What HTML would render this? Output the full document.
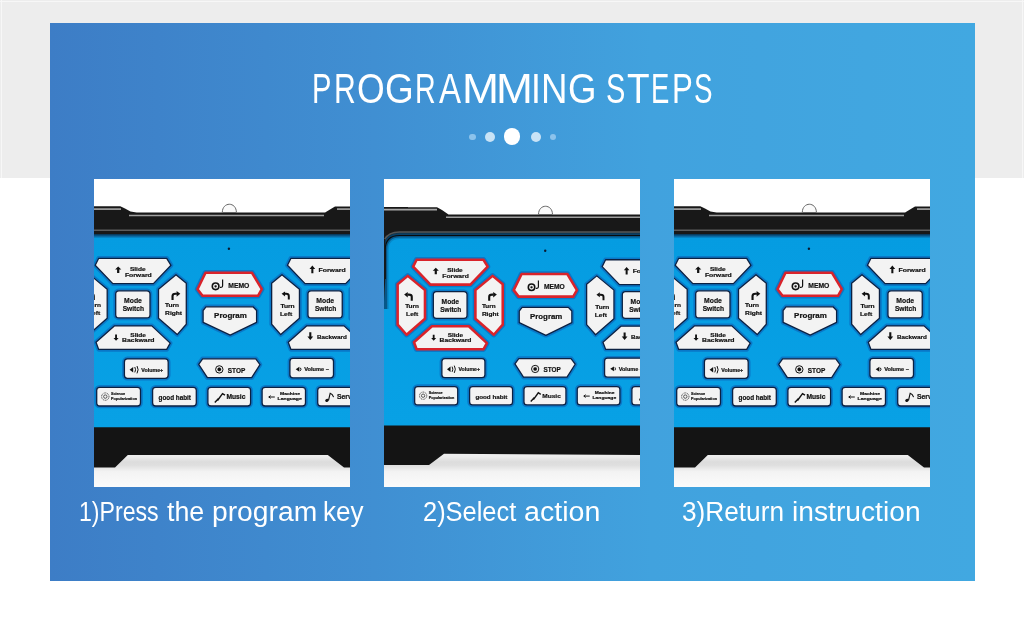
<!DOCTYPE html>
<html><head><meta charset="utf-8"><style>
*{margin:0;padding:0;box-sizing:border-box}
html,body{width:1024px;height:620px;overflow:hidden;background:#fff}
body{position:relative;font-family:"Liberation Sans",sans-serif}
#gray{position:absolute;left:0;top:0;width:1024px;height:178px;background:#ededed}
.gl{position:absolute;background:#f7f7f7}
#panel{position:absolute;left:50px;top:23px;width:925px;height:558px;background:linear-gradient(90deg,#3d7dc6 0%,#408fd2 35%,#41a2de 65%,#41a8e1 100%)}
#title{position:absolute;left:0;top:64.1px;width:1024px;height:48px;will-change:transform}
.tl{position:absolute;top:0;color:#fff;font-size:42.6px;line-height:48px;white-space:nowrap;transform-origin:0 0}
.dot{position:absolute;border-radius:50%}
.ph{position:absolute;top:179px;will-change:transform}
#caps{position:absolute;left:0;top:496.7px;width:1024px;height:30px;will-change:transform}
.cw{position:absolute;top:0;color:#fff;font-size:27px;line-height:30px;white-space:nowrap;transform-origin:0 0}
</style></head><body>
<div id="gray"></div><div class="gl" style="left:0;top:1px;width:1024px;height:1px"></div><div class="gl" style="left:1px;top:0;width:1px;height:178px"></div><div class="gl" style="left:1022px;top:0;width:1px;height:178px"></div>
<div id="panel"></div>
<div id="title"><span class="tl" style="left:311.81px;transform:scaleX(0.684)">P</span><span class="tl" style="left:333.73px;transform:scaleX(0.708)">R</span><span class="tl" style="left:356.51px;transform:scaleX(0.836)">O</span><span class="tl" style="left:385.44px;transform:scaleX(0.867)">G</span><span class="tl" style="left:415.05px;transform:scaleX(0.672)">R</span><span class="tl" style="left:438.84px;transform:scaleX(0.775)">A</span><span class="tl" style="left:461.56px;transform:scaleX(1.042)">M</span><span class="tl" style="left:495.77px;transform:scaleX(1.039)">M</span><span class="tl" style="left:531.33px;transform:scaleX(0.831)">I</span><span class="tl" style="left:540.89px;transform:scaleX(0.861)">N</span><span class="tl" style="left:568.46px;transform:scaleX(0.859)">G</span><span class="tl" style="left:606.08px;transform:scaleX(0.681)">S</span><span class="tl" style="left:626.67px;transform:scaleX(0.868)">T</span><span class="tl" style="left:651.04px;transform:scaleX(0.645)">E</span><span class="tl" style="left:672.14px;transform:scaleX(0.732)">P</span><span class="tl" style="left:693.94px;transform:scaleX(0.652)">S</span></div>
<div class="dot" style="left:469px;top:133.5px;width:6.5px;height:6.5px;background:#8cc3ec"></div>
<div class="dot" style="left:484.7px;top:131.6px;width:10px;height:10px;background:#c9e3f6"></div>
<div class="dot" style="left:503.8px;top:128.4px;width:16.4px;height:16.4px;background:#ffffff"></div>
<div class="dot" style="left:530.7px;top:131.6px;width:10px;height:10px;background:#c9e3f6"></div>
<div class="dot" style="left:549.7px;top:133.5px;width:6.5px;height:6.5px;background:#8cc3ec"></div>
<svg class="ph" style="left:94px" width="256" height="308" viewBox="0 0 256 308" font-family="Liberation Sans, sans-serif"><defs>
<linearGradient id="floor" x1="0" y1="0" x2="0" y2="1"><stop offset="0" stop-color="#f0f0f0"/><stop offset="0.12" stop-color="#ececec"/><stop offset="0.26" stop-color="#dcdcdc"/><stop offset="0.36" stop-color="#dfdfdf"/><stop offset="0.55" stop-color="#f3f3f3"/><stop offset="1" stop-color="#fbfbfb"/></linearGradient>
<linearGradient id="pblue" x1="0" y1="0" x2="0" y2="1"><stop offset="0" stop-color="#059ce1"/><stop offset="1" stop-color="#08a1e5"/></linearGradient>
<linearGradient id="pshade" x1="0" y1="0" x2="0" y2="1"><stop offset="0" stop-color="#08304f"/><stop offset="0.45" stop-color="#0a5f95"/><stop offset="1" stop-color="#0a5f95" stop-opacity="0"/></linearGradient>
</defs><rect x="0" y="0" width="256" height="308" fill="#ffffff"/><rect x="0" y="274" width="256" height="34" fill="url(#floor)"/><polygon points="0,27.3 26.3,27.3 31,29.5 36.5,32.6 42.6,33.5 231.1,33.5 236,30.5 241,27.6 256,27.6 256,56 0,56" fill="#181818"/><polyline points="0,30.1 27,30.1" fill="none" stroke="#a8a8a8" stroke-width="1.6"/><polyline points="35,36.4 230,36.4" fill="none" stroke="#a0a0a0" stroke-width="1.5"/><polyline points="243,30.1 256,30.1" fill="none" stroke="#a8a8a8" stroke-width="1.6"/><line x1="0" y1="51.2" x2="256" y2="51.2" stroke="#5c5c5c" stroke-width="1.6"/><path d="M128.3,33.5 C128.3,22.5 142.4,22.5 142.4,33.5 Z" fill="#fafafa" stroke="#666" stroke-width="1"/><rect x="0" y="55" width="256" height="194" fill="url(#pblue)"/><rect x="0" y="55" width="256" height="4.5" fill="url(#pshade)"/><polygon points="0,248.3 256,248.3 256,288.5 250,288.5 233.8,276 33.8,276 21,288.5 0,288.5" fill="#141414"/><circle cx="134.9" cy="69.7" r="1.2" fill="#0a1a30"/><g><polygon points="4.70,79.30 72.70,79.30 77.00,86.30 59.40,104.60 18.80,104.60 1.20,86.30" fill="none" stroke="#0a78c8" stroke-width="4.6" stroke-linejoin="round"/><polygon points="4.70,79.30 72.70,79.30 77.00,86.30 59.40,104.60 18.80,104.60 1.20,86.30" fill="#f3f3f3" stroke="#0c2142" stroke-width="1.3" stroke-linejoin="round"/><polygon points="20.30,146.90 57.80,146.90 76.20,164.10 72.70,170.40 4.70,170.40 2.00,163.30" fill="none" stroke="#0a78c8" stroke-width="4.6" stroke-linejoin="round"/><polygon points="20.30,146.90 57.80,146.90 76.20,164.10 72.70,170.40 4.70,170.40 2.00,163.30" fill="#f3f3f3" stroke="#0c2142" stroke-width="1.3" stroke-linejoin="round"/><polygon points="-4.30,95.70 -14.60,104.20 -14.60,145.30 -5.50,155.60 13.20,139.30 13.20,110.20" fill="none" stroke="#0a78c8" stroke-width="4.6" stroke-linejoin="round"/><polygon points="-4.30,95.70 -14.60,104.20 -14.60,145.30 -5.50,155.60 13.20,139.30 13.20,110.20" fill="#f3f3f3" stroke="#0c2142" stroke-width="1.3" stroke-linejoin="round"/><polygon points="82.00,95.70 92.30,104.20 92.30,145.30 83.20,155.60 64.50,139.30 64.50,110.20" fill="none" stroke="#0a78c8" stroke-width="4.6" stroke-linejoin="round"/><polygon points="82.00,95.70 92.30,104.20 92.30,145.30 83.20,155.60 64.50,139.30 64.50,110.20" fill="#f3f3f3" stroke="#0c2142" stroke-width="1.3" stroke-linejoin="round"/><rect x="21.70" y="111.80" width="34.30" height="27.10" rx="3.2" fill="none" stroke="#0a78c8" stroke-width="4.6"/><rect x="21.70" y="111.80" width="34.30" height="27.10" rx="3.2" fill="#f3f3f3" stroke="#0c2142" stroke-width="1.3"/><polygon points="196.95,79.30 264.95,79.30 269.25,86.30 251.65,104.60 211.05,104.60 193.45,86.30" fill="none" stroke="#0a78c8" stroke-width="4.6" stroke-linejoin="round"/><polygon points="196.95,79.30 264.95,79.30 269.25,86.30 251.65,104.60 211.05,104.60 193.45,86.30" fill="#f3f3f3" stroke="#0c2142" stroke-width="1.3" stroke-linejoin="round"/><polygon points="212.55,146.90 250.05,146.90 268.45,164.10 264.95,170.40 196.95,170.40 194.25,163.30" fill="none" stroke="#0a78c8" stroke-width="4.6" stroke-linejoin="round"/><polygon points="212.55,146.90 250.05,146.90 268.45,164.10 264.95,170.40 196.95,170.40 194.25,163.30" fill="#f3f3f3" stroke="#0c2142" stroke-width="1.3" stroke-linejoin="round"/><polygon points="187.95,95.70 177.65,104.20 177.65,145.30 186.75,155.60 205.45,139.30 205.45,110.20" fill="none" stroke="#0a78c8" stroke-width="4.6" stroke-linejoin="round"/><polygon points="187.95,95.70 177.65,104.20 177.65,145.30 186.75,155.60 205.45,139.30 205.45,110.20" fill="#f3f3f3" stroke="#0c2142" stroke-width="1.3" stroke-linejoin="round"/><polygon points="274.25,95.70 284.55,104.20 284.55,145.30 275.45,155.60 256.75,139.30 256.75,110.20" fill="none" stroke="#0a78c8" stroke-width="4.6" stroke-linejoin="round"/><polygon points="274.25,95.70 284.55,104.20 284.55,145.30 275.45,155.60 256.75,139.30 256.75,110.20" fill="#f3f3f3" stroke="#0c2142" stroke-width="1.3" stroke-linejoin="round"/><rect x="213.95" y="111.80" width="34.30" height="27.10" rx="3.2" fill="none" stroke="#0a78c8" stroke-width="4.6"/><rect x="213.95" y="111.80" width="34.30" height="27.10" rx="3.2" fill="#f3f3f3" stroke="#0c2142" stroke-width="1.3"/><polygon points="111.50,93.80 158.00,93.80 167.80,110.20 164.00,116.80 108.50,116.80 103.50,110.20" fill="none" stroke="#0a78c8" stroke-width="5.5" stroke-linejoin="round"/><polygon points="111.50,93.80 158.00,93.80 167.80,110.20 164.00,116.80 108.50,116.80 103.50,110.20" fill="#f3f3f3" stroke="#d9232b" stroke-width="2.6" stroke-linejoin="round"/><polygon points="112.00,127.80 159.00,127.80 162.60,131.50 162.60,143.30 136.20,156.20 109.10,143.30 109.10,131.50" fill="none" stroke="#0a78c8" stroke-width="4.6" stroke-linejoin="round"/><polygon points="112.00,127.80 159.00,127.80 162.60,131.50 162.60,143.30 136.20,156.20 109.10,143.30 109.10,131.50" fill="#f3f3f3" stroke="#0c2142" stroke-width="1.3" stroke-linejoin="round"/><polygon points="108.60,179.80 161.80,179.80 166.00,185.60 157.70,198.70 113.40,198.70 104.70,185.30" fill="none" stroke="#0a78c8" stroke-width="4.6" stroke-linejoin="round"/><polygon points="108.60,179.80 161.80,179.80 166.00,185.60 157.70,198.70 113.40,198.70 104.70,185.30" fill="#f3f3f3" stroke="#0c2142" stroke-width="1.3" stroke-linejoin="round"/><rect x="30.40" y="179.90" width="43.80" height="19.40" rx="3" fill="none" stroke="#0a78c8" stroke-width="4.6"/><rect x="30.40" y="179.90" width="43.80" height="19.40" rx="3" fill="#f3f3f3" stroke="#0c2142" stroke-width="1.3"/><rect x="195.90" y="179.40" width="43.60" height="19.40" rx="3" fill="none" stroke="#0a78c8" stroke-width="4.6"/><rect x="195.90" y="179.40" width="43.60" height="19.40" rx="3" fill="#f3f3f3" stroke="#0c2142" stroke-width="1.3"/><rect x="2.70" y="208.30" width="43.80" height="18.70" rx="3" fill="none" stroke="#0a78c8" stroke-width="4.6"/><rect x="2.70" y="208.30" width="43.80" height="18.70" rx="3" fill="#f3f3f3" stroke="#0c2142" stroke-width="1.3"/><rect x="58.60" y="208.30" width="43.70" height="18.70" rx="3" fill="none" stroke="#0a78c8" stroke-width="4.6"/><rect x="58.60" y="208.30" width="43.70" height="18.70" rx="3" fill="#f3f3f3" stroke="#0c2142" stroke-width="1.3"/><rect x="113.90" y="208.30" width="42.70" height="18.70" rx="3" fill="none" stroke="#0a78c8" stroke-width="4.6"/><rect x="113.90" y="208.30" width="42.70" height="18.70" rx="3" fill="#f3f3f3" stroke="#0c2142" stroke-width="1.3"/><rect x="168.10" y="208.30" width="43.40" height="18.70" rx="3" fill="none" stroke="#0a78c8" stroke-width="4.6"/><rect x="168.10" y="208.30" width="43.40" height="18.70" rx="3" fill="#f3f3f3" stroke="#0c2142" stroke-width="1.3"/><rect x="223.70" y="208.30" width="43.70" height="18.70" rx="3" fill="none" stroke="#0a78c8" stroke-width="4.6"/><rect x="223.70" y="208.30" width="43.70" height="18.70" rx="3" fill="#f3f3f3" stroke="#0c2142" stroke-width="1.3"/></g><g fill="#111" stroke="#111" stroke-width="0.2"><text x="30.1" y="123.9" font-size="7.2" font-weight="bold" textLength="17.80" lengthAdjust="spacingAndGlyphs">Mode</text><text x="28.7" y="132.2" font-size="7.2" font-weight="bold" textLength="21.40" lengthAdjust="spacingAndGlyphs">Switch</text><path d="M24.200000000000003,87.5 L27.3,90.47 H25.316000000000003 V94.1 H23.084000000000003 V90.47 H21.1 Z" fill="#111" stroke="none"/><text x="35.9" y="91.8" font-size="5.8" font-weight="bold" textLength="15.70" lengthAdjust="spacingAndGlyphs">Slide</text><text x="30.9" y="97.6" font-size="5.8" font-weight="bold" textLength="26.90" lengthAdjust="spacingAndGlyphs">Forward</text><path d="M22.05,161.8 L24.6,158.965 H22.968 V155.5 H21.132 V158.965 H19.5 Z" fill="#111" stroke="none"/><text x="36.3" y="157.5" font-size="5.8" font-weight="bold" textLength="15.70" lengthAdjust="spacingAndGlyphs">Slide</text><text x="28.1" y="163.3" font-size="5.8" font-weight="bold" textLength="32.40" lengthAdjust="spacingAndGlyphs">Backward</text><path d="M78.53999999999999,121.1 V117.005 Q78.53999999999999,114.73 81.44999999999999,114.73 H82.905" fill="none" stroke="#111" stroke-width="2.13"/><path d="M82.605,112 L86.3,114.73 L82.605,117.642 Z" fill="#111" stroke="none"/><text x="71.1" y="128.4" font-size="5.6" font-weight="bold" textLength="14.00" lengthAdjust="spacingAndGlyphs">Turn</text><text x="71.1" y="136.3" font-size="5.6" font-weight="bold" textLength="17.00" lengthAdjust="spacingAndGlyphs">Right</text><path d="M-0.24,121.1 V117.005 Q-0.24,114.73 -3.1499999999999995,114.73 H-4.605" fill="none" stroke="#111" stroke-width="2.13"/><path d="M-4.305000000000001,112 L-8,114.73 L-4.305000000000001,117.642 Z" fill="#111" stroke="none"/><text x="-7" y="128.4" font-size="5.6" font-weight="bold" textLength="14.00" lengthAdjust="spacingAndGlyphs">Turn</text><text x="-6" y="136.3" font-size="5.6" font-weight="bold" textLength="12.30" lengthAdjust="spacingAndGlyphs">Left</text><text x="222.35" y="123.9" font-size="7.2" font-weight="bold" textLength="17.80" lengthAdjust="spacingAndGlyphs">Mode</text><text x="220.95" y="132.2" font-size="7.2" font-weight="bold" textLength="21.40" lengthAdjust="spacingAndGlyphs">Switch</text><path d="M218.35,86.6 L221.2,90.02 H219.376 V94.2 H217.32399999999998 V90.02 H215.5 Z" fill="#111" stroke="none"/><text x="224.5" y="93.1" font-size="5.8" font-weight="bold" textLength="27.10" lengthAdjust="spacingAndGlyphs">Forward</text><path d="M216.3,161 L219.2,157.49 H217.344 V153.2 H215.25600000000003 V157.49 H213.4 Z" fill="#111" stroke="none"/><text x="222.9" y="160" font-size="5.8" font-weight="bold" textLength="29.90" lengthAdjust="spacingAndGlyphs">Backward</text><path d="M194.79999999999998,120.6 V116.91 Q194.79999999999998,114.86 192.1,114.86 H190.75" fill="none" stroke="#111" stroke-width="1.98"/><path d="M191.05,112.4 L187.6,114.86 L191.05,117.484 Z" fill="#111" stroke="none"/><text x="186.4" y="129.2" font-size="5.6" font-weight="bold" textLength="14.30" lengthAdjust="spacingAndGlyphs">Turn</text><text x="186" y="137.3" font-size="5.6" font-weight="bold" textLength="12.30" lengthAdjust="spacingAndGlyphs">Left</text><circle cx="121.6" cy="107.3" r="3.3" fill="none" stroke="#111" stroke-width="1.6"/><circle cx="121.6" cy="107.3" r="1.1" fill="#111"/><path d="M128.6,100.5 V106.5 Q128.6,108.8 126,108.4" fill="none" stroke="#111" stroke-width="1.2"/><text x="134.3" y="109" font-size="7" font-weight="bold" textLength="21.10" lengthAdjust="spacingAndGlyphs">MEMO</text><text x="120.1" y="139.1" font-size="7.4" font-weight="bold" textLength="32.80" lengthAdjust="spacingAndGlyphs">Program</text><circle cx="125.3" cy="190.4" r="3.7" fill="none" stroke="#111" stroke-width="1"/><circle cx="125.3" cy="190.4" r="1.8" fill="#111"/><text x="133.8" y="193.5" font-size="7.6" font-weight="bold" textLength="17.50" lengthAdjust="spacingAndGlyphs">STOP</text><path d="M35.6,190.7 L39.2,188 V193.4 Z" fill="#111" stroke="none"/><path d="M40.8,188 Q42.3,190.7 40.8,193.4 M43,187 Q45.2,190.7 43,194.4" fill="none" stroke="#111" stroke-width="1"/><text x="47.3" y="192.6" font-size="5.6" font-weight="bold" textLength="21.90" lengthAdjust="spacingAndGlyphs">Volume+</text><path d="M201.7,190.3 L205.4,187.8 V192.8 Z" fill="#111" stroke="none"/><path d="M206.4,188.8 Q207.6,190.3 206.4,191.8" fill="none" stroke="#111" stroke-width="1"/><text x="210.3" y="192.4" font-size="5.6" font-weight="bold" textLength="24.70" lengthAdjust="spacingAndGlyphs">Volume −</text><circle cx="11.3" cy="217.6" r="3.7" fill="none" stroke="#333" stroke-width="0.9" stroke-dasharray="1,0.7"/><circle cx="11.3" cy="217.6" r="1.7" fill="none" stroke="#333" stroke-width="0.8"/><text x="17" y="216.2" font-size="4" font-weight="bold" textLength="14.00" lengthAdjust="spacingAndGlyphs">Science</text><text x="17" y="221.4" font-size="4" font-weight="bold" textLength="26.00" lengthAdjust="spacingAndGlyphs">Popularization</text><text x="64.5" y="220.5" font-size="6.3" font-weight="bold" textLength="32.50" lengthAdjust="spacingAndGlyphs">good habit</text><path d="M120.8,223.5 L124.5,219.5 M123.5,221.5 L128.5,214.6 L131,216.2" fill="none" stroke="#111" stroke-width="1.4"/><text x="132.4" y="220.3" font-size="6.3" font-weight="bold" textLength="19.00" lengthAdjust="spacingAndGlyphs">Music</text><path d="M174.8,218 h6 M174.8,218 l1.8,-1.4 M174.8,218 l1.8,1.4" fill="none" stroke="#111" stroke-width="1"/><text x="186" y="215.8" font-size="4.4" font-weight="bold" textLength="20.00" lengthAdjust="spacingAndGlyphs">Machine</text><text x="183.6" y="221.2" font-size="4.4" font-weight="bold" textLength="24.20" lengthAdjust="spacingAndGlyphs">Language</text><ellipse cx="233" cy="221.3" rx="1.9" ry="1.5" transform="rotate(-25 233 221.3)" fill="#111" stroke="none"/><path d="M234.6,221 L236.2,214.2 Q238.6,215 239.6,218.2" fill="none" stroke="#111" stroke-width="1.1"/><text x="242.9" y="220.4" font-size="6.5" font-weight="bold" textLength="19.10" lengthAdjust="spacingAndGlyphs">Servo</text></g></svg>
<svg class="ph" style="left:384px" width="256" height="308" viewBox="0 0 256 308" font-family="Liberation Sans, sans-serif"><defs>
<linearGradient id="floor" x1="0" y1="0" x2="0" y2="1"><stop offset="0" stop-color="#f0f0f0"/><stop offset="0.12" stop-color="#ececec"/><stop offset="0.26" stop-color="#dcdcdc"/><stop offset="0.36" stop-color="#dfdfdf"/><stop offset="0.55" stop-color="#f3f3f3"/><stop offset="1" stop-color="#fbfbfb"/></linearGradient>
<linearGradient id="pblue" x1="0" y1="0" x2="0" y2="1"><stop offset="0" stop-color="#059ce1"/><stop offset="1" stop-color="#08a1e5"/></linearGradient>
<linearGradient id="pshade" x1="0" y1="0" x2="0" y2="1"><stop offset="0" stop-color="#08304f"/><stop offset="0.45" stop-color="#0a5f95"/><stop offset="1" stop-color="#0a5f95" stop-opacity="0"/></linearGradient>
</defs><rect x="0" y="0" width="256" height="308" fill="#ffffff"/><rect x="0" y="274" width="256" height="34" fill="url(#floor)"/><polygon points="0,28.2 53,28.2 58,31 64.5,35.5 256,35.5 256,60 0,60" fill="#181818"/><rect x="0" y="28" width="24" height="50" fill="#181818"/><polyline points="0,30.6 53,30.6" fill="none" stroke="#a8a8a8" stroke-width="1.6"/><polyline points="62,38.2 256,38.2" fill="none" stroke="#a0a0a0" stroke-width="1.5"/><path d="M154.5,35.5 C154.5,24.5 168.5,24.5 168.5,35.5 Z" fill="#fafafa" stroke="#666" stroke-width="1"/><path d="M0,247 L0,120 L1.2,100 L1.2,71 Q1.2,56.5 15.5,56.5 L256,56.5 L256,247 Z" fill="url(#pblue)"/><path d="M1.2,130 L1.2,71 Q1.2,56.5 15.5,56.5 L256,56.5" fill="none" stroke="#083a60" stroke-width="4" opacity="0.75"/><path d="M1.2,130 L1.2,71 Q1.2,56.5 15.5,56.5 L256,56.5" fill="none" stroke="#0a5f95" stroke-width="7" opacity="0.35"/><path d="M1.2,100 L1.2,71 Q1.2,56.5 15.5,56.5 L256,56.5" fill="none" stroke="#0a0a0a" stroke-width="1.2"/><path d="M-1.5,90 L-1.5,71 Q-1.5,53 15.5,53 L256,53" fill="none" stroke="#555" stroke-width="1.6"/><path d="M0,60 L1.3,60 L1.3,100 L0,122 Z" fill="#181818"/><polygon points="0,246.5 256,246.5 256,276 60,274.8 45,286 0,286" fill="#141414"/><circle cx="161.2" cy="71.8" r="1.2" fill="#0a1a30"/><g transform="translate(28,2.8) scale(0.983)"><g><polygon points="4.70,79.30 72.70,79.30 77.00,86.30 59.40,104.60 18.80,104.60 1.20,86.30" fill="none" stroke="#0a78c8" stroke-width="5.5" stroke-linejoin="round"/><polygon points="4.70,79.30 72.70,79.30 77.00,86.30 59.40,104.60 18.80,104.60 1.20,86.30" fill="#f3f3f3" stroke="#d9232b" stroke-width="2.6" stroke-linejoin="round"/><polygon points="20.30,146.90 57.80,146.90 76.20,164.10 72.70,170.40 4.70,170.40 2.00,163.30" fill="none" stroke="#0a78c8" stroke-width="5.5" stroke-linejoin="round"/><polygon points="20.30,146.90 57.80,146.90 76.20,164.10 72.70,170.40 4.70,170.40 2.00,163.30" fill="#f3f3f3" stroke="#d9232b" stroke-width="2.6" stroke-linejoin="round"/><polygon points="-4.30,95.70 -14.60,104.20 -14.60,145.30 -5.50,155.60 13.20,139.30 13.20,110.20" fill="none" stroke="#0a78c8" stroke-width="5.5" stroke-linejoin="round"/><polygon points="-4.30,95.70 -14.60,104.20 -14.60,145.30 -5.50,155.60 13.20,139.30 13.20,110.20" fill="#f3f3f3" stroke="#d9232b" stroke-width="2.6" stroke-linejoin="round"/><polygon points="82.00,95.70 92.30,104.20 92.30,145.30 83.20,155.60 64.50,139.30 64.50,110.20" fill="none" stroke="#0a78c8" stroke-width="5.5" stroke-linejoin="round"/><polygon points="82.00,95.70 92.30,104.20 92.30,145.30 83.20,155.60 64.50,139.30 64.50,110.20" fill="#f3f3f3" stroke="#d9232b" stroke-width="2.6" stroke-linejoin="round"/><rect x="21.70" y="111.80" width="34.30" height="27.10" rx="3.2" fill="none" stroke="#0a78c8" stroke-width="4.6"/><rect x="21.70" y="111.80" width="34.30" height="27.10" rx="3.2" fill="#f3f3f3" stroke="#0c2142" stroke-width="1.3"/><polygon points="196.95,79.30 264.95,79.30 269.25,86.30 251.65,104.60 211.05,104.60 193.45,86.30" fill="none" stroke="#0a78c8" stroke-width="4.6" stroke-linejoin="round"/><polygon points="196.95,79.30 264.95,79.30 269.25,86.30 251.65,104.60 211.05,104.60 193.45,86.30" fill="#f3f3f3" stroke="#0c2142" stroke-width="1.3" stroke-linejoin="round"/><polygon points="212.55,146.90 250.05,146.90 268.45,164.10 264.95,170.40 196.95,170.40 194.25,163.30" fill="none" stroke="#0a78c8" stroke-width="4.6" stroke-linejoin="round"/><polygon points="212.55,146.90 250.05,146.90 268.45,164.10 264.95,170.40 196.95,170.40 194.25,163.30" fill="#f3f3f3" stroke="#0c2142" stroke-width="1.3" stroke-linejoin="round"/><polygon points="187.95,95.70 177.65,104.20 177.65,145.30 186.75,155.60 205.45,139.30 205.45,110.20" fill="none" stroke="#0a78c8" stroke-width="4.6" stroke-linejoin="round"/><polygon points="187.95,95.70 177.65,104.20 177.65,145.30 186.75,155.60 205.45,139.30 205.45,110.20" fill="#f3f3f3" stroke="#0c2142" stroke-width="1.3" stroke-linejoin="round"/><polygon points="274.25,95.70 284.55,104.20 284.55,145.30 275.45,155.60 256.75,139.30 256.75,110.20" fill="none" stroke="#0a78c8" stroke-width="4.6" stroke-linejoin="round"/><polygon points="274.25,95.70 284.55,104.20 284.55,145.30 275.45,155.60 256.75,139.30 256.75,110.20" fill="#f3f3f3" stroke="#0c2142" stroke-width="1.3" stroke-linejoin="round"/><rect x="213.95" y="111.80" width="34.30" height="27.10" rx="3.2" fill="none" stroke="#0a78c8" stroke-width="4.6"/><rect x="213.95" y="111.80" width="34.30" height="27.10" rx="3.2" fill="#f3f3f3" stroke="#0c2142" stroke-width="1.3"/><polygon points="111.50,93.80 158.00,93.80 167.80,110.20 164.00,116.80 108.50,116.80 103.50,110.20" fill="none" stroke="#0a78c8" stroke-width="5.5" stroke-linejoin="round"/><polygon points="111.50,93.80 158.00,93.80 167.80,110.20 164.00,116.80 108.50,116.80 103.50,110.20" fill="#f3f3f3" stroke="#d9232b" stroke-width="2.6" stroke-linejoin="round"/><polygon points="112.00,127.80 159.00,127.80 162.60,131.50 162.60,143.30 136.20,156.20 109.10,143.30 109.10,131.50" fill="none" stroke="#0a78c8" stroke-width="4.6" stroke-linejoin="round"/><polygon points="112.00,127.80 159.00,127.80 162.60,131.50 162.60,143.30 136.20,156.20 109.10,143.30 109.10,131.50" fill="#f3f3f3" stroke="#0c2142" stroke-width="1.3" stroke-linejoin="round"/><polygon points="108.60,179.80 161.80,179.80 166.00,185.60 157.70,198.70 113.40,198.70 104.70,185.30" fill="none" stroke="#0a78c8" stroke-width="4.6" stroke-linejoin="round"/><polygon points="108.60,179.80 161.80,179.80 166.00,185.60 157.70,198.70 113.40,198.70 104.70,185.30" fill="#f3f3f3" stroke="#0c2142" stroke-width="1.3" stroke-linejoin="round"/><rect x="30.40" y="179.90" width="43.80" height="19.40" rx="3" fill="none" stroke="#0a78c8" stroke-width="4.6"/><rect x="30.40" y="179.90" width="43.80" height="19.40" rx="3" fill="#f3f3f3" stroke="#0c2142" stroke-width="1.3"/><rect x="195.90" y="179.40" width="43.60" height="19.40" rx="3" fill="none" stroke="#0a78c8" stroke-width="4.6"/><rect x="195.90" y="179.40" width="43.60" height="19.40" rx="3" fill="#f3f3f3" stroke="#0c2142" stroke-width="1.3"/><rect x="2.70" y="208.30" width="43.80" height="18.70" rx="3" fill="none" stroke="#0a78c8" stroke-width="4.6"/><rect x="2.70" y="208.30" width="43.80" height="18.70" rx="3" fill="#f3f3f3" stroke="#0c2142" stroke-width="1.3"/><rect x="58.60" y="208.30" width="43.70" height="18.70" rx="3" fill="none" stroke="#0a78c8" stroke-width="4.6"/><rect x="58.60" y="208.30" width="43.70" height="18.70" rx="3" fill="#f3f3f3" stroke="#0c2142" stroke-width="1.3"/><rect x="113.90" y="208.30" width="42.70" height="18.70" rx="3" fill="none" stroke="#0a78c8" stroke-width="4.6"/><rect x="113.90" y="208.30" width="42.70" height="18.70" rx="3" fill="#f3f3f3" stroke="#0c2142" stroke-width="1.3"/><rect x="168.10" y="208.30" width="43.40" height="18.70" rx="3" fill="none" stroke="#0a78c8" stroke-width="4.6"/><rect x="168.10" y="208.30" width="43.40" height="18.70" rx="3" fill="#f3f3f3" stroke="#0c2142" stroke-width="1.3"/><rect x="223.70" y="208.30" width="43.70" height="18.70" rx="3" fill="none" stroke="#0a78c8" stroke-width="4.6"/><rect x="223.70" y="208.30" width="43.70" height="18.70" rx="3" fill="#f3f3f3" stroke="#0c2142" stroke-width="1.3"/></g><g fill="#111" stroke="#111" stroke-width="0.2"><text x="30.1" y="123.9" font-size="7.2" font-weight="bold" textLength="17.80" lengthAdjust="spacingAndGlyphs">Mode</text><text x="28.7" y="132.2" font-size="7.2" font-weight="bold" textLength="21.40" lengthAdjust="spacingAndGlyphs">Switch</text><path d="M24.200000000000003,87.5 L27.3,90.47 H25.316000000000003 V94.1 H23.084000000000003 V90.47 H21.1 Z" fill="#111" stroke="none"/><text x="35.9" y="91.8" font-size="5.8" font-weight="bold" textLength="15.70" lengthAdjust="spacingAndGlyphs">Slide</text><text x="30.9" y="97.6" font-size="5.8" font-weight="bold" textLength="26.90" lengthAdjust="spacingAndGlyphs">Forward</text><path d="M22.05,161.8 L24.6,158.965 H22.968 V155.5 H21.132 V158.965 H19.5 Z" fill="#111" stroke="none"/><text x="36.3" y="157.5" font-size="5.8" font-weight="bold" textLength="15.70" lengthAdjust="spacingAndGlyphs">Slide</text><text x="28.1" y="163.3" font-size="5.8" font-weight="bold" textLength="32.40" lengthAdjust="spacingAndGlyphs">Backward</text><path d="M78.53999999999999,121.1 V117.005 Q78.53999999999999,114.73 81.44999999999999,114.73 H82.905" fill="none" stroke="#111" stroke-width="2.13"/><path d="M82.605,112 L86.3,114.73 L82.605,117.642 Z" fill="#111" stroke="none"/><text x="71.1" y="128.4" font-size="5.6" font-weight="bold" textLength="14.00" lengthAdjust="spacingAndGlyphs">Turn</text><text x="71.1" y="136.3" font-size="5.6" font-weight="bold" textLength="17.00" lengthAdjust="spacingAndGlyphs">Right</text><path d="M-0.24,121.1 V117.005 Q-0.24,114.73 -3.1499999999999995,114.73 H-4.605" fill="none" stroke="#111" stroke-width="2.13"/><path d="M-4.305000000000001,112 L-8,114.73 L-4.305000000000001,117.642 Z" fill="#111" stroke="none"/><text x="-7" y="128.4" font-size="5.6" font-weight="bold" textLength="14.00" lengthAdjust="spacingAndGlyphs">Turn</text><text x="-6" y="136.3" font-size="5.6" font-weight="bold" textLength="12.30" lengthAdjust="spacingAndGlyphs">Left</text><text x="222.35" y="123.9" font-size="7.2" font-weight="bold" textLength="17.80" lengthAdjust="spacingAndGlyphs">Mode</text><text x="220.95" y="132.2" font-size="7.2" font-weight="bold" textLength="21.40" lengthAdjust="spacingAndGlyphs">Switch</text><path d="M218.35,86.6 L221.2,90.02 H219.376 V94.2 H217.32399999999998 V90.02 H215.5 Z" fill="#111" stroke="none"/><text x="224.5" y="93.1" font-size="5.8" font-weight="bold" textLength="27.10" lengthAdjust="spacingAndGlyphs">Forward</text><path d="M216.3,161 L219.2,157.49 H217.344 V153.2 H215.25600000000003 V157.49 H213.4 Z" fill="#111" stroke="none"/><text x="222.9" y="160" font-size="5.8" font-weight="bold" textLength="29.90" lengthAdjust="spacingAndGlyphs">Backward</text><path d="M194.79999999999998,120.6 V116.91 Q194.79999999999998,114.86 192.1,114.86 H190.75" fill="none" stroke="#111" stroke-width="1.98"/><path d="M191.05,112.4 L187.6,114.86 L191.05,117.484 Z" fill="#111" stroke="none"/><text x="186.4" y="129.2" font-size="5.6" font-weight="bold" textLength="14.30" lengthAdjust="spacingAndGlyphs">Turn</text><text x="186" y="137.3" font-size="5.6" font-weight="bold" textLength="12.30" lengthAdjust="spacingAndGlyphs">Left</text><circle cx="121.6" cy="107.3" r="3.3" fill="none" stroke="#111" stroke-width="1.6"/><circle cx="121.6" cy="107.3" r="1.1" fill="#111"/><path d="M128.6,100.5 V106.5 Q128.6,108.8 126,108.4" fill="none" stroke="#111" stroke-width="1.2"/><text x="134.3" y="109" font-size="7" font-weight="bold" textLength="21.10" lengthAdjust="spacingAndGlyphs">MEMO</text><text x="120.1" y="139.1" font-size="7.4" font-weight="bold" textLength="32.80" lengthAdjust="spacingAndGlyphs">Program</text><circle cx="125.3" cy="190.4" r="3.7" fill="none" stroke="#111" stroke-width="1"/><circle cx="125.3" cy="190.4" r="1.8" fill="#111"/><text x="133.8" y="193.5" font-size="7.6" font-weight="bold" textLength="17.50" lengthAdjust="spacingAndGlyphs">STOP</text><path d="M35.6,190.7 L39.2,188 V193.4 Z" fill="#111" stroke="none"/><path d="M40.8,188 Q42.3,190.7 40.8,193.4 M43,187 Q45.2,190.7 43,194.4" fill="none" stroke="#111" stroke-width="1"/><text x="47.3" y="192.6" font-size="5.6" font-weight="bold" textLength="21.90" lengthAdjust="spacingAndGlyphs">Volume+</text><path d="M201.7,190.3 L205.4,187.8 V192.8 Z" fill="#111" stroke="none"/><path d="M206.4,188.8 Q207.6,190.3 206.4,191.8" fill="none" stroke="#111" stroke-width="1"/><text x="210.3" y="192.4" font-size="5.6" font-weight="bold" textLength="24.70" lengthAdjust="spacingAndGlyphs">Volume −</text><circle cx="11.3" cy="217.6" r="3.7" fill="none" stroke="#333" stroke-width="0.9" stroke-dasharray="1,0.7"/><circle cx="11.3" cy="217.6" r="1.7" fill="none" stroke="#333" stroke-width="0.8"/><text x="17" y="216.2" font-size="4" font-weight="bold" textLength="14.00" lengthAdjust="spacingAndGlyphs">Science</text><text x="17" y="221.4" font-size="4" font-weight="bold" textLength="26.00" lengthAdjust="spacingAndGlyphs">Popularization</text><text x="64.5" y="220.5" font-size="6.3" font-weight="bold" textLength="32.50" lengthAdjust="spacingAndGlyphs">good habit</text><path d="M120.8,223.5 L124.5,219.5 M123.5,221.5 L128.5,214.6 L131,216.2" fill="none" stroke="#111" stroke-width="1.4"/><text x="132.4" y="220.3" font-size="6.3" font-weight="bold" textLength="19.00" lengthAdjust="spacingAndGlyphs">Music</text><path d="M174.8,218 h6 M174.8,218 l1.8,-1.4 M174.8,218 l1.8,1.4" fill="none" stroke="#111" stroke-width="1"/><text x="186" y="215.8" font-size="4.4" font-weight="bold" textLength="20.00" lengthAdjust="spacingAndGlyphs">Machine</text><text x="183.6" y="221.2" font-size="4.4" font-weight="bold" textLength="24.20" lengthAdjust="spacingAndGlyphs">Language</text><ellipse cx="233" cy="221.3" rx="1.9" ry="1.5" transform="rotate(-25 233 221.3)" fill="#111" stroke="none"/><path d="M234.6,221 L236.2,214.2 Q238.6,215 239.6,218.2" fill="none" stroke="#111" stroke-width="1.1"/><text x="242.9" y="220.4" font-size="6.5" font-weight="bold" textLength="19.10" lengthAdjust="spacingAndGlyphs">Servo</text></g></g></svg>
<svg class="ph" style="left:674px" width="256" height="308" viewBox="0 0 256 308" font-family="Liberation Sans, sans-serif"><defs>
<linearGradient id="floor" x1="0" y1="0" x2="0" y2="1"><stop offset="0" stop-color="#f0f0f0"/><stop offset="0.12" stop-color="#ececec"/><stop offset="0.26" stop-color="#dcdcdc"/><stop offset="0.36" stop-color="#dfdfdf"/><stop offset="0.55" stop-color="#f3f3f3"/><stop offset="1" stop-color="#fbfbfb"/></linearGradient>
<linearGradient id="pblue" x1="0" y1="0" x2="0" y2="1"><stop offset="0" stop-color="#059ce1"/><stop offset="1" stop-color="#08a1e5"/></linearGradient>
<linearGradient id="pshade" x1="0" y1="0" x2="0" y2="1"><stop offset="0" stop-color="#08304f"/><stop offset="0.45" stop-color="#0a5f95"/><stop offset="1" stop-color="#0a5f95" stop-opacity="0"/></linearGradient>
</defs><rect x="0" y="0" width="256" height="308" fill="#ffffff"/><rect x="0" y="274" width="256" height="34" fill="url(#floor)"/><polygon points="0,27.3 26.3,27.3 31,29.5 36.5,32.6 42.6,33.5 231.1,33.5 236,30.5 241,27.6 256,27.6 256,56 0,56" fill="#181818"/><polyline points="0,30.1 27,30.1" fill="none" stroke="#a8a8a8" stroke-width="1.6"/><polyline points="35,36.4 230,36.4" fill="none" stroke="#a0a0a0" stroke-width="1.5"/><polyline points="243,30.1 256,30.1" fill="none" stroke="#a8a8a8" stroke-width="1.6"/><line x1="0" y1="51.2" x2="256" y2="51.2" stroke="#5c5c5c" stroke-width="1.6"/><path d="M128.3,33.5 C128.3,22.5 142.4,22.5 142.4,33.5 Z" fill="#fafafa" stroke="#666" stroke-width="1"/><rect x="0" y="55" width="256" height="194" fill="url(#pblue)"/><rect x="0" y="55" width="256" height="4.5" fill="url(#pshade)"/><polygon points="0,248.3 256,248.3 256,288.5 250,288.5 233.8,276 33.8,276 21,288.5 0,288.5" fill="#141414"/><circle cx="134.9" cy="69.7" r="1.2" fill="#0a1a30"/><g><polygon points="4.70,79.30 72.70,79.30 77.00,86.30 59.40,104.60 18.80,104.60 1.20,86.30" fill="none" stroke="#0a78c8" stroke-width="4.6" stroke-linejoin="round"/><polygon points="4.70,79.30 72.70,79.30 77.00,86.30 59.40,104.60 18.80,104.60 1.20,86.30" fill="#f3f3f3" stroke="#0c2142" stroke-width="1.3" stroke-linejoin="round"/><polygon points="20.30,146.90 57.80,146.90 76.20,164.10 72.70,170.40 4.70,170.40 2.00,163.30" fill="none" stroke="#0a78c8" stroke-width="4.6" stroke-linejoin="round"/><polygon points="20.30,146.90 57.80,146.90 76.20,164.10 72.70,170.40 4.70,170.40 2.00,163.30" fill="#f3f3f3" stroke="#0c2142" stroke-width="1.3" stroke-linejoin="round"/><polygon points="-4.30,95.70 -14.60,104.20 -14.60,145.30 -5.50,155.60 13.20,139.30 13.20,110.20" fill="none" stroke="#0a78c8" stroke-width="4.6" stroke-linejoin="round"/><polygon points="-4.30,95.70 -14.60,104.20 -14.60,145.30 -5.50,155.60 13.20,139.30 13.20,110.20" fill="#f3f3f3" stroke="#0c2142" stroke-width="1.3" stroke-linejoin="round"/><polygon points="82.00,95.70 92.30,104.20 92.30,145.30 83.20,155.60 64.50,139.30 64.50,110.20" fill="none" stroke="#0a78c8" stroke-width="4.6" stroke-linejoin="round"/><polygon points="82.00,95.70 92.30,104.20 92.30,145.30 83.20,155.60 64.50,139.30 64.50,110.20" fill="#f3f3f3" stroke="#0c2142" stroke-width="1.3" stroke-linejoin="round"/><rect x="21.70" y="111.80" width="34.30" height="27.10" rx="3.2" fill="none" stroke="#0a78c8" stroke-width="4.6"/><rect x="21.70" y="111.80" width="34.30" height="27.10" rx="3.2" fill="#f3f3f3" stroke="#0c2142" stroke-width="1.3"/><polygon points="196.95,79.30 264.95,79.30 269.25,86.30 251.65,104.60 211.05,104.60 193.45,86.30" fill="none" stroke="#0a78c8" stroke-width="4.6" stroke-linejoin="round"/><polygon points="196.95,79.30 264.95,79.30 269.25,86.30 251.65,104.60 211.05,104.60 193.45,86.30" fill="#f3f3f3" stroke="#0c2142" stroke-width="1.3" stroke-linejoin="round"/><polygon points="212.55,146.90 250.05,146.90 268.45,164.10 264.95,170.40 196.95,170.40 194.25,163.30" fill="none" stroke="#0a78c8" stroke-width="4.6" stroke-linejoin="round"/><polygon points="212.55,146.90 250.05,146.90 268.45,164.10 264.95,170.40 196.95,170.40 194.25,163.30" fill="#f3f3f3" stroke="#0c2142" stroke-width="1.3" stroke-linejoin="round"/><polygon points="187.95,95.70 177.65,104.20 177.65,145.30 186.75,155.60 205.45,139.30 205.45,110.20" fill="none" stroke="#0a78c8" stroke-width="4.6" stroke-linejoin="round"/><polygon points="187.95,95.70 177.65,104.20 177.65,145.30 186.75,155.60 205.45,139.30 205.45,110.20" fill="#f3f3f3" stroke="#0c2142" stroke-width="1.3" stroke-linejoin="round"/><polygon points="274.25,95.70 284.55,104.20 284.55,145.30 275.45,155.60 256.75,139.30 256.75,110.20" fill="none" stroke="#0a78c8" stroke-width="4.6" stroke-linejoin="round"/><polygon points="274.25,95.70 284.55,104.20 284.55,145.30 275.45,155.60 256.75,139.30 256.75,110.20" fill="#f3f3f3" stroke="#0c2142" stroke-width="1.3" stroke-linejoin="round"/><rect x="213.95" y="111.80" width="34.30" height="27.10" rx="3.2" fill="none" stroke="#0a78c8" stroke-width="4.6"/><rect x="213.95" y="111.80" width="34.30" height="27.10" rx="3.2" fill="#f3f3f3" stroke="#0c2142" stroke-width="1.3"/><polygon points="111.50,93.80 158.00,93.80 167.80,110.20 164.00,116.80 108.50,116.80 103.50,110.20" fill="none" stroke="#0a78c8" stroke-width="5.5" stroke-linejoin="round"/><polygon points="111.50,93.80 158.00,93.80 167.80,110.20 164.00,116.80 108.50,116.80 103.50,110.20" fill="#f3f3f3" stroke="#d9232b" stroke-width="2.6" stroke-linejoin="round"/><polygon points="112.00,127.80 159.00,127.80 162.60,131.50 162.60,143.30 136.20,156.20 109.10,143.30 109.10,131.50" fill="none" stroke="#0a78c8" stroke-width="4.6" stroke-linejoin="round"/><polygon points="112.00,127.80 159.00,127.80 162.60,131.50 162.60,143.30 136.20,156.20 109.10,143.30 109.10,131.50" fill="#f3f3f3" stroke="#0c2142" stroke-width="1.3" stroke-linejoin="round"/><polygon points="108.60,179.80 161.80,179.80 166.00,185.60 157.70,198.70 113.40,198.70 104.70,185.30" fill="none" stroke="#0a78c8" stroke-width="4.6" stroke-linejoin="round"/><polygon points="108.60,179.80 161.80,179.80 166.00,185.60 157.70,198.70 113.40,198.70 104.70,185.30" fill="#f3f3f3" stroke="#0c2142" stroke-width="1.3" stroke-linejoin="round"/><rect x="30.40" y="179.90" width="43.80" height="19.40" rx="3" fill="none" stroke="#0a78c8" stroke-width="4.6"/><rect x="30.40" y="179.90" width="43.80" height="19.40" rx="3" fill="#f3f3f3" stroke="#0c2142" stroke-width="1.3"/><rect x="195.90" y="179.40" width="43.60" height="19.40" rx="3" fill="none" stroke="#0a78c8" stroke-width="4.6"/><rect x="195.90" y="179.40" width="43.60" height="19.40" rx="3" fill="#f3f3f3" stroke="#0c2142" stroke-width="1.3"/><rect x="2.70" y="208.30" width="43.80" height="18.70" rx="3" fill="none" stroke="#0a78c8" stroke-width="4.6"/><rect x="2.70" y="208.30" width="43.80" height="18.70" rx="3" fill="#f3f3f3" stroke="#0c2142" stroke-width="1.3"/><rect x="58.60" y="208.30" width="43.70" height="18.70" rx="3" fill="none" stroke="#0a78c8" stroke-width="4.6"/><rect x="58.60" y="208.30" width="43.70" height="18.70" rx="3" fill="#f3f3f3" stroke="#0c2142" stroke-width="1.3"/><rect x="113.90" y="208.30" width="42.70" height="18.70" rx="3" fill="none" stroke="#0a78c8" stroke-width="4.6"/><rect x="113.90" y="208.30" width="42.70" height="18.70" rx="3" fill="#f3f3f3" stroke="#0c2142" stroke-width="1.3"/><rect x="168.10" y="208.30" width="43.40" height="18.70" rx="3" fill="none" stroke="#0a78c8" stroke-width="4.6"/><rect x="168.10" y="208.30" width="43.40" height="18.70" rx="3" fill="#f3f3f3" stroke="#0c2142" stroke-width="1.3"/><rect x="223.70" y="208.30" width="43.70" height="18.70" rx="3" fill="none" stroke="#0a78c8" stroke-width="4.6"/><rect x="223.70" y="208.30" width="43.70" height="18.70" rx="3" fill="#f3f3f3" stroke="#0c2142" stroke-width="1.3"/></g><g fill="#111" stroke="#111" stroke-width="0.2"><text x="30.1" y="123.9" font-size="7.2" font-weight="bold" textLength="17.80" lengthAdjust="spacingAndGlyphs">Mode</text><text x="28.7" y="132.2" font-size="7.2" font-weight="bold" textLength="21.40" lengthAdjust="spacingAndGlyphs">Switch</text><path d="M24.200000000000003,87.5 L27.3,90.47 H25.316000000000003 V94.1 H23.084000000000003 V90.47 H21.1 Z" fill="#111" stroke="none"/><text x="35.9" y="91.8" font-size="5.8" font-weight="bold" textLength="15.70" lengthAdjust="spacingAndGlyphs">Slide</text><text x="30.9" y="97.6" font-size="5.8" font-weight="bold" textLength="26.90" lengthAdjust="spacingAndGlyphs">Forward</text><path d="M22.05,161.8 L24.6,158.965 H22.968 V155.5 H21.132 V158.965 H19.5 Z" fill="#111" stroke="none"/><text x="36.3" y="157.5" font-size="5.8" font-weight="bold" textLength="15.70" lengthAdjust="spacingAndGlyphs">Slide</text><text x="28.1" y="163.3" font-size="5.8" font-weight="bold" textLength="32.40" lengthAdjust="spacingAndGlyphs">Backward</text><path d="M78.53999999999999,121.1 V117.005 Q78.53999999999999,114.73 81.44999999999999,114.73 H82.905" fill="none" stroke="#111" stroke-width="2.13"/><path d="M82.605,112 L86.3,114.73 L82.605,117.642 Z" fill="#111" stroke="none"/><text x="71.1" y="128.4" font-size="5.6" font-weight="bold" textLength="14.00" lengthAdjust="spacingAndGlyphs">Turn</text><text x="71.1" y="136.3" font-size="5.6" font-weight="bold" textLength="17.00" lengthAdjust="spacingAndGlyphs">Right</text><path d="M-0.24,121.1 V117.005 Q-0.24,114.73 -3.1499999999999995,114.73 H-4.605" fill="none" stroke="#111" stroke-width="2.13"/><path d="M-4.305000000000001,112 L-8,114.73 L-4.305000000000001,117.642 Z" fill="#111" stroke="none"/><text x="-7" y="128.4" font-size="5.6" font-weight="bold" textLength="14.00" lengthAdjust="spacingAndGlyphs">Turn</text><text x="-6" y="136.3" font-size="5.6" font-weight="bold" textLength="12.30" lengthAdjust="spacingAndGlyphs">Left</text><text x="222.35" y="123.9" font-size="7.2" font-weight="bold" textLength="17.80" lengthAdjust="spacingAndGlyphs">Mode</text><text x="220.95" y="132.2" font-size="7.2" font-weight="bold" textLength="21.40" lengthAdjust="spacingAndGlyphs">Switch</text><path d="M218.35,86.6 L221.2,90.02 H219.376 V94.2 H217.32399999999998 V90.02 H215.5 Z" fill="#111" stroke="none"/><text x="224.5" y="93.1" font-size="5.8" font-weight="bold" textLength="27.10" lengthAdjust="spacingAndGlyphs">Forward</text><path d="M216.3,161 L219.2,157.49 H217.344 V153.2 H215.25600000000003 V157.49 H213.4 Z" fill="#111" stroke="none"/><text x="222.9" y="160" font-size="5.8" font-weight="bold" textLength="29.90" lengthAdjust="spacingAndGlyphs">Backward</text><path d="M194.79999999999998,120.6 V116.91 Q194.79999999999998,114.86 192.1,114.86 H190.75" fill="none" stroke="#111" stroke-width="1.98"/><path d="M191.05,112.4 L187.6,114.86 L191.05,117.484 Z" fill="#111" stroke="none"/><text x="186.4" y="129.2" font-size="5.6" font-weight="bold" textLength="14.30" lengthAdjust="spacingAndGlyphs">Turn</text><text x="186" y="137.3" font-size="5.6" font-weight="bold" textLength="12.30" lengthAdjust="spacingAndGlyphs">Left</text><circle cx="121.6" cy="107.3" r="3.3" fill="none" stroke="#111" stroke-width="1.6"/><circle cx="121.6" cy="107.3" r="1.1" fill="#111"/><path d="M128.6,100.5 V106.5 Q128.6,108.8 126,108.4" fill="none" stroke="#111" stroke-width="1.2"/><text x="134.3" y="109" font-size="7" font-weight="bold" textLength="21.10" lengthAdjust="spacingAndGlyphs">MEMO</text><text x="120.1" y="139.1" font-size="7.4" font-weight="bold" textLength="32.80" lengthAdjust="spacingAndGlyphs">Program</text><circle cx="125.3" cy="190.4" r="3.7" fill="none" stroke="#111" stroke-width="1"/><circle cx="125.3" cy="190.4" r="1.8" fill="#111"/><text x="133.8" y="193.5" font-size="7.6" font-weight="bold" textLength="17.50" lengthAdjust="spacingAndGlyphs">STOP</text><path d="M35.6,190.7 L39.2,188 V193.4 Z" fill="#111" stroke="none"/><path d="M40.8,188 Q42.3,190.7 40.8,193.4 M43,187 Q45.2,190.7 43,194.4" fill="none" stroke="#111" stroke-width="1"/><text x="47.3" y="192.6" font-size="5.6" font-weight="bold" textLength="21.90" lengthAdjust="spacingAndGlyphs">Volume+</text><path d="M201.7,190.3 L205.4,187.8 V192.8 Z" fill="#111" stroke="none"/><path d="M206.4,188.8 Q207.6,190.3 206.4,191.8" fill="none" stroke="#111" stroke-width="1"/><text x="210.3" y="192.4" font-size="5.6" font-weight="bold" textLength="24.70" lengthAdjust="spacingAndGlyphs">Volume −</text><circle cx="11.3" cy="217.6" r="3.7" fill="none" stroke="#333" stroke-width="0.9" stroke-dasharray="1,0.7"/><circle cx="11.3" cy="217.6" r="1.7" fill="none" stroke="#333" stroke-width="0.8"/><text x="17" y="216.2" font-size="4" font-weight="bold" textLength="14.00" lengthAdjust="spacingAndGlyphs">Science</text><text x="17" y="221.4" font-size="4" font-weight="bold" textLength="26.00" lengthAdjust="spacingAndGlyphs">Popularization</text><text x="64.5" y="220.5" font-size="6.3" font-weight="bold" textLength="32.50" lengthAdjust="spacingAndGlyphs">good habit</text><path d="M120.8,223.5 L124.5,219.5 M123.5,221.5 L128.5,214.6 L131,216.2" fill="none" stroke="#111" stroke-width="1.4"/><text x="132.4" y="220.3" font-size="6.3" font-weight="bold" textLength="19.00" lengthAdjust="spacingAndGlyphs">Music</text><path d="M174.8,218 h6 M174.8,218 l1.8,-1.4 M174.8,218 l1.8,1.4" fill="none" stroke="#111" stroke-width="1"/><text x="186" y="215.8" font-size="4.4" font-weight="bold" textLength="20.00" lengthAdjust="spacingAndGlyphs">Machine</text><text x="183.6" y="221.2" font-size="4.4" font-weight="bold" textLength="24.20" lengthAdjust="spacingAndGlyphs">Language</text><ellipse cx="233" cy="221.3" rx="1.9" ry="1.5" transform="rotate(-25 233 221.3)" fill="#111" stroke="none"/><path d="M234.6,221 L236.2,214.2 Q238.6,215 239.6,218.2" fill="none" stroke="#111" stroke-width="1.1"/><text x="242.9" y="220.4" font-size="6.5" font-weight="bold" textLength="19.10" lengthAdjust="spacingAndGlyphs">Servo</text></g></svg>
<div id="caps"><span class="cw" style="left:79.49px;transform:scaleX(0.856)">1)Press</span><span class="cw" style="left:167.35px;transform:scaleX(0.993)">the</span><span class="cw" style="left:212.37px;transform:scaleX(1.046)">program</span><span class="cw" style="left:322.81px;transform:scaleX(0.966)">key</span><span class="cw" style="left:422.52px;transform:scaleX(0.942)">2)Select</span><span class="cw" style="left:523.74px;transform:scaleX(1.059)">action</span><span class="cw" style="left:681.63px;transform:scaleX(0.971)">3)Return</span><span class="cw" style="left:791.87px;transform:scaleX(1.045)">instruction</span></div>
</body></html>
